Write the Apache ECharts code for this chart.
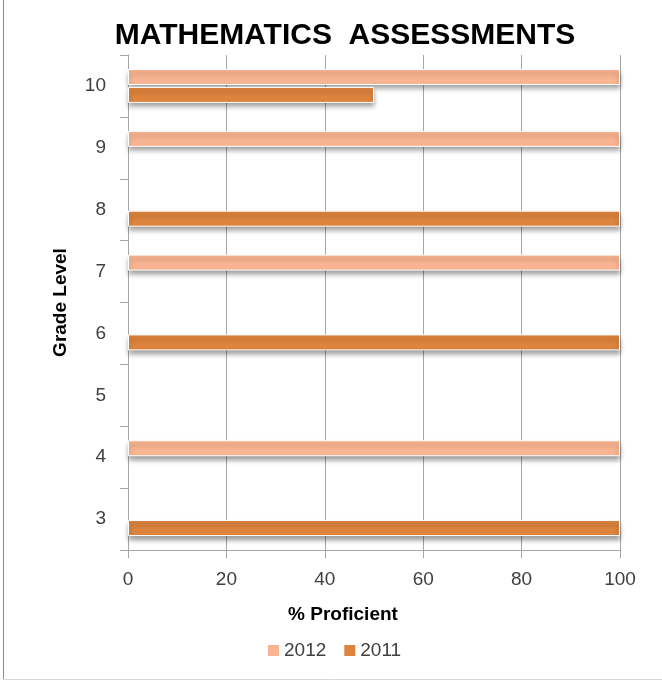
<!DOCTYPE html>
<html>
<head>
<meta charset="utf-8">
<script src="https://cdn.jsdelivr.net/npm/echarts@6/dist/echarts.min.js"></script>
<style>
html,body{margin:0;padding:0;background:#fff;}
#chart{width:662px;height:681px;}
</style>
</head>
<body>
<div id="chart"></div>
<script>
const titleText = 'MATHEMATICS  ASSESSMENTS';
const grades = ['3', '4', '5', '6', '7', '8', '9', '10'];
const values2012 = [null, 100, null, null, 100, null, 100, 100];
const values2011 = [100, null, null, 100, null, 100, null, 50];
const xTicks = [0, 20, 40, 60, 80, 100];
const xName = '% Proficient';
const yName = 'Grade Level';

const chart = echarts.init(document.getElementById('chart'), null, {renderer: 'canvas'});
const font = 'Liberation Sans';
const barStyle = (color) => ({
  color: color,
  borderColor: '#ffffff',
  borderWidth: 1,
  shadowColor: 'rgba(0,0,0,0.4)',
  shadowBlur: 5,
  shadowOffsetY: 4
});

chart.setOption({
  animation: false,
  title: {
    text: titleText,
    left: 340,
    textAlign: 'center',
    top: 16,
    textStyle: {fontFamily: font, fontSize: 30, fontWeight: 'bold', color: '#000'}
  },
  legend: {
    data: ['2012', '2011'],
    left: 263,
    top: 636,
    itemWidth: 11,
    itemHeight: 11,
    itemGap: 18,
    icon: 'rect',
    textStyle: {fontFamily: font, fontSize: 19, color: '#404040'},
    itemStyle: {shadowBlur: 0, shadowOffsetY: 0, borderWidth: 0}
  },
  grid: {left: 128, right: 42, top: 55, bottom: 131, containLabel: false},
  xAxis: {
    type: 'value',
    min: xTicks[0],
    max: xTicks[xTicks.length - 1],
    interval: xTicks[1] - xTicks[0],
    name: xName,
    nameLocation: 'middle',
    nameGap: 55,
    nameTextStyle: {fontFamily: font, fontSize: 19, fontWeight: 'bold', color: '#000', padding: [0, 62, 0, 0]},
    axisLine: {show: true, lineStyle: {color: '#a6a6a6', width: 1}},
    axisTick: {show: true, length: 8, lineStyle: {color: '#a6a6a6'}},
    axisLabel: {fontFamily: font, fontSize: 19, color: '#404040', margin: 20},
    splitLine: {show: true, lineStyle: {color: '#a6a6a6', width: 1}}
  },
  yAxis: {
    type: 'category',
    data: grades,
    name: yName,
    nameLocation: 'middle',
    nameGap: 58,
    nameRotate: 90,
    nameTextStyle: {fontFamily: font, fontSize: 19, fontWeight: 'bold', color: '#000'},
    axisLine: {show: true, lineStyle: {color: '#a6a6a6', width: 1}},
    axisTick: {show: true, length: 8, lineStyle: {color: '#a6a6a6'}},
    axisLabel: {fontFamily: font, fontSize: 19, color: '#404040', margin: 22},
    splitLine: {show: false}
  },
  series: [
    {name: '2012', type: 'bar', data: values2012, barWidth: 16, barGap: '12%', itemStyle: barStyle('#F9B591')},
    {name: '2011', type: 'bar', data: values2011, barWidth: 16, barGap: '12%', itemStyle: barStyle('#DD843E')}
  ],
  graphic: [
    {type: 'line', shape: {x1: 3.5, y1: 0, x2: 3.5, y2: 680}, style: {stroke: '#8c8c8c', lineWidth: 1}},
    {type: 'line', shape: {x1: 3, y1: 679.5, x2: 662, y2: 679.5}, style: {stroke: '#d9d9d9', lineWidth: 1}}
  ]
});
</script>
</body>
</html>
